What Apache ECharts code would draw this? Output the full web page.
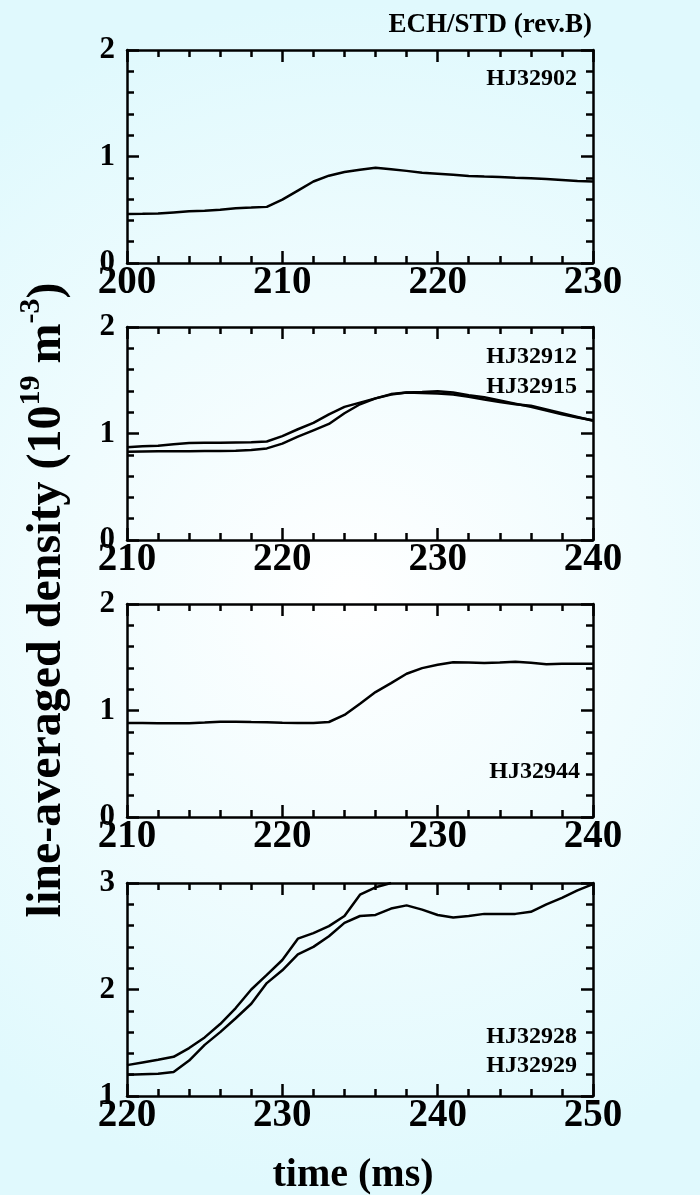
<!DOCTYPE html>
<html>
<head>
    <meta charset="utf-8">
    <title>ECH/STD line-averaged density</title>
    <script src="https://cdn.jsdelivr.net/npm/echarts@6/dist/echarts.min.js"></script>
    <style>
        * {
            margin: 0;
            padding: 0
        }

        html, body {
            width: 100%;
            height: 100%;
        }

        #main {
            width: 700px;
            height: 1195px;
        }
    </style>
</head>
<body>
<div id="main"></div>

<script type="text/javascript">
    /*--------------------数据-----------------------------*/
    // panel 1 : HJ32902
    var time1 = [200, 201, 202, 203, 204, 205, 206, 207, 208, 209, 210, 211, 212, 213, 214, 215,
        216, 217, 218, 219, 220, 221, 222, 223, 224, 225, 226, 227, 228, 229, 230];
    var hj32902 = [0.46, 0.462, 0.465, 0.475, 0.485, 0.49, 0.50, 0.515, 0.52, 0.527, 0.595, 0.68, 0.765, 0.82, 0.855, 0.875,
        0.895, 0.88, 0.865, 0.848, 0.838, 0.828, 0.818, 0.812, 0.808, 0.80, 0.795, 0.788, 0.78, 0.77, 0.765];

    // panel 2 : HJ32912 / HJ32915
    var time2 = [210, 211, 212, 213, 214, 215, 216, 217, 218, 219, 220, 221, 222, 223, 224, 225,
        226, 227, 228, 229, 230, 231, 232, 233, 234, 235, 236, 237, 238, 239, 240];
    var hj32912 = [0.87, 0.88, 0.885, 0.90, 0.91, 0.912, 0.912, 0.915, 0.918, 0.925, 0.975, 1.04, 1.10, 1.18, 1.25, 1.29,
        1.33, 1.37, 1.385, 1.39, 1.397, 1.385, 1.36, 1.34, 1.31, 1.28, 1.25, 1.215, 1.18, 1.15, 1.125];
    var hj32915 = [0.828, 0.832, 0.834, 0.834, 0.834, 0.835, 0.836, 0.838, 0.844, 0.86, 0.905, 0.97, 1.03, 1.09, 1.19, 1.275,
        1.33, 1.365, 1.384, 1.38, 1.375, 1.366, 1.345, 1.32, 1.295, 1.275, 1.26, 1.225, 1.19, 1.155, 1.12];

    // panel 3 : HJ32944
    var time3 = time2;
    var hj32944 = [0.883, 0.882, 0.88, 0.88, 0.88, 0.887, 0.895, 0.895, 0.892, 0.89, 0.885, 0.883, 0.883, 0.892, 0.958, 1.064,
        1.173, 1.257, 1.345, 1.398, 1.43, 1.454, 1.45, 1.445, 1.45, 1.457, 1.448, 1.435, 1.44, 1.44, 1.44];

    // panel 4 : HJ32928 / HJ32929
    var time4a = [220, 221, 222, 223, 224, 225, 226, 227, 228, 229, 230, 231, 232, 233, 234, 235, 236, 237];
    var hj32928 = [1.29, 1.315, 1.34, 1.368, 1.45, 1.55, 1.676, 1.826, 2.0, 2.137, 2.277, 2.477, 2.53, 2.595, 2.69, 2.89, 2.96, 3.0];
    var time4b = [220, 221, 222, 223, 224, 225, 226, 227, 228, 229, 230, 231, 232, 233, 234, 235,
        236, 237, 238, 239, 240, 241, 242, 243, 244, 245, 246, 247, 248, 249, 250];
    var hj32929 = [1.20, 1.205, 1.21, 1.225, 1.333, 1.48, 1.60, 1.73, 1.866, 2.06, 2.18, 2.33, 2.40, 2.50, 2.626, 2.69,
        2.70, 2.76, 2.79, 2.75, 2.70, 2.676, 2.69, 2.71, 2.71, 2.71, 2.73, 2.80, 2.86, 2.93, 2.99];

    // axis ranges of the four panels
    var xRanges = [[200, 230], [210, 240], [210, 240], [220, 250]];
    var yRanges = [[0, 2], [0, 2], [0, 2], [1, 3]];
    var gridTops = [50, 327, 604, 883];

    /*--------------------图表-----------------------------*/
    var FONT = '"Liberation Serif", "Times New Roman", serif';

    function pairs(xs, ys) {
        return xs.map(function (x, i) {
            return [x, ys[i]];
        });
    }

    function axis(pos, idx, range, interval, showLabel) {
        var isX = (pos === 'bottom' || pos === 'top');
        return {
            type: 'value',
            gridIndex: idx,
            position: pos,
            min: range[0],
            max: range[1],
            interval: interval,
            axisLine: {show: true, onZero: false, lineStyle: {color: '#000', width: 2.5}},
            axisTick: {show: true, inside: true, length: 12, lineStyle: {color: '#000', width: 2.5}},
            minorTick: {show: true, splitNumber: 5, length: 7, lineStyle: {color: '#000', width: 2.5}},
            splitLine: {show: false},
            minorSplitLine: {show: false},
            axisLabel: {
                show: showLabel,
                color: '#000',
                fontFamily: FONT,
                fontWeight: 'bold',
                fontSize: isX ? 39 : 31,
                margin: isX ? 0 : 12
            }
        };
    }

    var grids = [], xAxes = [], yAxes = [];
    for (var i = 0; i < 4; i++) {
        grids.push({left: 127, width: 466, top: gridTops[i], height: 213, outerBoundsMode: 'none'});
        xAxes.push(axis('bottom', i, xRanges[i], 10, true));
        xAxes.push(axis('top', i, xRanges[i], 10, false));
        yAxes.push(axis('left', i, yRanges[i], 1, true));
        yAxes.push(axis('right', i, yRanges[i], 1, false));
    }

    function lineSeries(name, idx, data) {
        return {
            name: name,
            type: 'line',
            xAxisIndex: idx * 2,
            yAxisIndex: idx * 2,
            data: data,
            showSymbol: false,
            symbol: 'none',
            clip: true,
            lineStyle: {color: '#000', width: 2.5},
            animation: false
        };
    }

    function label(text, x, y, size) {
        return {
            type: 'text',
            x: x,
            y: y,
            style: {
                text: text,
                fill: '#000',
                font: 'bold ' + size + 'px ' + FONT,
                textAlign: 'right',
                align: 'right',
                textVerticalAlign: 'middle',
                verticalAlign: 'middle'
            }
        };
    }

    var chart = echarts.init(document.getElementById('main'));
    chart.setOption({
        animation: false,
        backgroundColor: new echarts.graphic.RadialGradient(0.5, 0.5, 0.85, [
            {offset: 0, color: '#ffffff'},
            {offset: 1, color: '#e0f9fd'}
        ]),
        grid: grids,
        xAxis: xAxes,
        yAxis: yAxes,
        series: [
            lineSeries('HJ32902', 0, pairs(time1, hj32902)),
            lineSeries('HJ32912', 1, pairs(time2, hj32912)),
            lineSeries('HJ32915', 1, pairs(time2, hj32915)),
            lineSeries('HJ32944', 2, pairs(time3, hj32944)),
            lineSeries('HJ32928', 3, pairs(time4a, hj32928)),
            lineSeries('HJ32929', 3, pairs(time4b, hj32929))
        ],
        graphic: [
            label('ECH/STD (rev.B)', 592, 25, 27),
            label('HJ32902', 577, 79, 24),
            label('HJ32912', 577, 357, 24),
            label('HJ32915', 577, 387, 24),
            label('HJ32944', 580, 772, 24),
            label('HJ32928', 577, 1037, 24),
            label('HJ32929', 577, 1066, 24),
            {
                type: 'text',
                x: 353,
                y: 1176,
                style: {
                    text: 'time (ms)',
                    fill: '#000',
                    font: 'bold 40px ' + FONT,
                    textAlign: 'center',
                    align: 'center',
                    textVerticalAlign: 'middle',
                    verticalAlign: 'middle'
                }
            },
            {
                type: 'text',
                x: 44,
                y: 600,
                rotation: Math.PI / 2,
                style: {
                    text: '{a|line-averaged density (10}{s|19}{a| m}{s|-3}{a|)}',
                    fill: '#000',
                    textAlign: 'center',
                    align: 'center',
                    textVerticalAlign: 'middle',
                    verticalAlign: 'middle',
                    rich: {
                        a: {
                            fontFamily: FONT, fontWeight: 'bold', fontSize: 48,
                            lineHeight: 56, verticalAlign: 'bottom', fill: '#000', color: '#000'
                        },
                        s: {
                            fontFamily: FONT, fontWeight: 'bold', fontSize: 30,
                            lineHeight: 30, verticalAlign: 'top', fill: '#000', color: '#000'
                        }
                    }
                }
            }
        ]
    });
</script>
</body>
</html>
